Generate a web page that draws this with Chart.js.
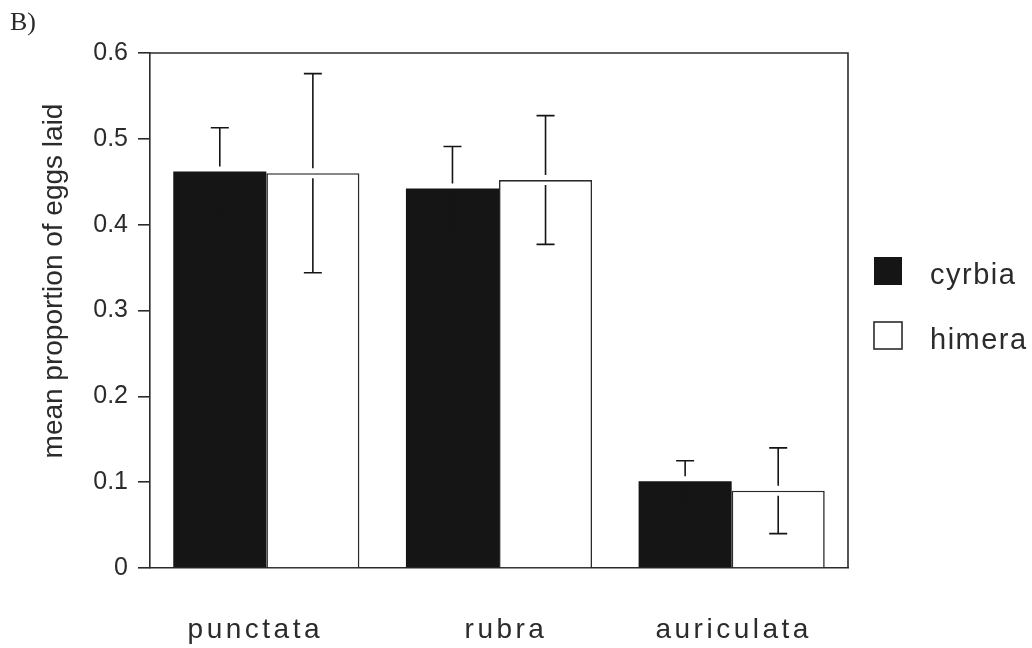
<!DOCTYPE html>
<html>
<head>
<meta charset="utf-8">
<script src="https://cdn.jsdelivr.net/npm/chart.js@4/dist/chart.umd.min.js"></script>
<style>
body{margin:0;background:#fff;}
#wrap{width:1032px;height:648px;}
</style>
</head>
<body>
<div id="wrap"><canvas id="eggChart" width="1032" height="648"></canvas></div>
<script>
// data
const hosts=['punctata','rubra','auriculata'];
const cyrbiaMean=[0.462,0.442,0.101];
const cyrbiaErr=[0.051,0.049,0.024];
const himeraMean=[0.46,0.452,0.09];
const himeraErr=[0.116,0.075,0.05];
const yTicks=[0,0.1,0.2,0.3,0.4,0.5,0.6];

const ink='#2b2b2b';
const dark='#151515';
const sans='"Liberation Sans", Arial, Helvetica, sans-serif';

// error bars, top & right frame, labels, legend
const extras={
  id:'extras',
  afterDatasetsDraw(chart){
    const ctx=chart.ctx, y=chart.scales.y, a=chart.chartArea;
    ctx.save();
    ctx.strokeStyle=dark;ctx.lineWidth=1.6;
    chart.data.datasets.forEach((ds,di)=>{
      const meta=chart.getDatasetMeta(di);
      meta.data.forEach((bar,i)=>{
        const v=ds.data[i],e=ds.err[i];
        const yt=y.getPixelForValue(v+e),yb=y.getPixelForValue(v-e),ym=y.getPixelForValue(v);
        ctx.beginPath();
        ctx.moveTo(bar.x,yt);ctx.lineTo(bar.x,ym-5);
        ctx.moveTo(bar.x-9,yt);ctx.lineTo(bar.x+9,yt);
        // lower half sits inside the bar; on the black bars it just vanishes
        ctx.moveTo(bar.x,ym+5);ctx.lineTo(bar.x,yb);
        ctx.moveTo(bar.x-9,yb);ctx.lineTo(bar.x+9,yb);
        ctx.stroke();
      });
    });
    // frame
    ctx.strokeStyle=ink;
    ctx.beginPath();
    ctx.moveTo(a.left,a.top);ctx.lineTo(a.right,a.top);ctx.lineTo(a.right,a.bottom);
    ctx.stroke();
    ctx.restore();
  },
  afterDraw(chart){
    const ctx=chart.ctx, x=chart.scales.x;
    ctx.save();
    ctx.fillStyle=ink;
    // category labels
    ctx.font='28px '+sans;
    ctx.letterSpacing='3.5px';
    ctx.textAlign='center';ctx.textBaseline='alphabetic';
    const nudge=[-13,5,0];
    hosts.forEach((h,i)=>ctx.fillText(h,x.getPixelForValue(i)+nudge[i]+2,638));
    // legend
    ctx.font='29px '+sans;
    ctx.letterSpacing='1.5px';
    ctx.textAlign='left';
    chart.data.datasets.forEach((ds,di)=>{
      const top=di===0?257:322;
      ctx.fillStyle=ds.backgroundColor;
      ctx.fillRect(874,top,28,28);
      if(di===1){ctx.strokeStyle=ink;ctx.lineWidth=1.6;ctx.strokeRect(874,top,28,27);}
      ctx.fillStyle=ink;
      ctx.fillText(ds.label,930,top+27);
    });
    // y title
    ctx.letterSpacing='0px';
    ctx.font='28px '+sans;
    ctx.save();
    ctx.translate(62,281);
    ctx.rotate(-Math.PI/2);
    ctx.textAlign='center';
    ctx.fillText('mean proportion of eggs laid',0,0);
    ctx.restore();
    // panel letter
    ctx.font='26px "Liberation Serif", "Times New Roman", serif';
    ctx.textAlign='left';
    ctx.fillText('B)',10,30);
    ctx.restore();
  }
};

new Chart(document.getElementById('eggChart').getContext('2d'),{
  type:'bar',
  data:{
    labels:hosts,
    datasets:[
      {label:'cyrbia',data:cyrbiaMean,err:cyrbiaErr,backgroundColor:dark,borderWidth:0},
      {label:'himera',data:himeraMean,err:himeraErr,backgroundColor:'#ffffff',borderColor:ink,borderWidth:1.6}
    ]
  },
  options:{
    responsive:false,
    animation:false,
    layout:{padding:{left:0,right:184,top:53,bottom:80}},
    plugins:{legend:{display:false},tooltip:{enabled:false}},
    datasets:{bar:{categoryPercentage:0.8,barPercentage:1}},
    scales:{
      x:{
        ticks:{display:false},
        grid:{display:false},
        border:{display:true,color:ink,width:1.6},
        afterFit(s){s.height=0;}
      },
      y:{
        min:0,max:0.6,
        afterBuildTicks(s){s.ticks=yTicks.map(v=>({value:v}));},
        ticks:{
          padding:10,color:ink,font:{size:25,family:sans},
          callback:v=>v===0?'0':v.toFixed(1)
        },
        grid:{drawOnChartArea:false,drawTicks:true,tickLength:12,tickColor:ink,lineWidth:1.6},
        border:{display:true,color:ink,width:1.6},
        afterFit(s){s.width=150;}
      }
    }
  },
  plugins:[extras]
});
</script>
</body>
</html>
